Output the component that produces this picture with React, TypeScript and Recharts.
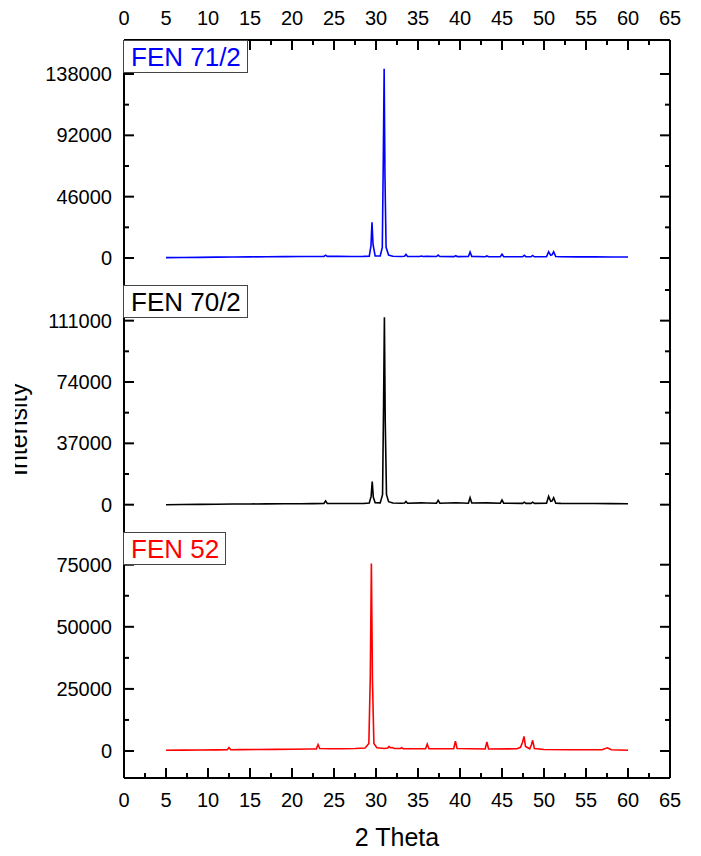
import React from "react";
import { LineChart, Line, XAxis, YAxis, Legend } from "recharts";

const FONT = '"Liberation Sans", Arial, sans-serif';
const W = 701;
const H = 856;

// 2 Theta axis ticks (majors every 5, minors in between)
const thetaTicks = [
  0, 2.5, 5, 7.5, 10, 12.5, 15, 17.5, 20, 22.5, 25, 27.5, 30, 32.5, 35, 37.5,
  40, 42.5, 45, 47.5, 50, 52.5, 55, 57.5, 60, 62.5, 65,
];

// FEN 71/2 (blue)
const fen71Theta = [
  5, 7, 9, 11, 13, 15, 17, 19, 21, 22.5, 23.8, 24.0, 24.2, 25.5, 27, 28.5,
  29.2, 29.4, 29.52, 29.65, 29.9, 30.5, 30.75, 30.87, 30.97, 31.07, 31.2, 31.5,
  32, 33, 33.4, 33.57, 33.75, 35.2, 35.4, 35.6, 36.0, 37.2, 37.4, 37.6, 39.3,
  39.5, 39.7, 41.0, 41.2, 41.4, 43.0, 43.2, 43.4, 44.8, 45.0, 45.2, 47.45,
  47.65, 47.85, 48.45, 48.65, 48.85, 50.3, 50.55, 50.8, 50.95, 51.15, 51.4, 52,
  54, 56, 58, 60,
];
const fen71Counts = [
  300, 400, 500, 650, 750, 850, 950, 1050, 1100, 1150, 1200, 2100, 1250, 1200,
  1150, 1200, 1400, 9000, 26800, 10000, 1600, 1500, 8000, 75000, 142000, 60000,
  8000, 2200, 1300, 1100, 1300, 2800, 1200, 1100, 1500, 1100, 1300, 1100, 2200,
  1100, 1000, 1700, 1000, 1100, 4500, 1200, 900, 1500, 900, 1000, 2900, 1000,
  900, 2000, 1000, 900, 1900, 900, 1000, 4700, 2000, 2300, 4600, 1100, 900, 850,
  850, 800, 800,
];
const fen71Ticks = [0, 23000, 46000, 69000, 92000, 115000, 138000];

// FEN 70/2 (black)
const fen70Theta = [
  5, 7, 9, 11, 13, 15, 17, 19, 21, 22.5, 23.8, 24.0, 24.2, 25.5, 27, 28.5,
  29.2, 29.42, 29.55, 29.68, 29.9, 30.5, 30.78, 30.9, 31.0, 31.1, 31.25, 31.5,
  32, 33, 33.4, 33.57, 33.75, 35.4, 36.0, 37.2, 37.4, 37.6, 39.5, 41.0, 41.2,
  41.4, 43.2, 44.8, 45.0, 45.2, 47.45, 47.65, 47.85, 48.45, 48.65, 48.85, 50.3,
  50.55, 50.8, 50.95, 51.15, 51.4, 52, 54, 56, 58, 60,
];
const fen70Counts = [
  0, 100, 200, 300, 400, 450, 500, 550, 600, 650, 700, 2300, 750, 700, 700, 750,
  1000, 5000, 13900, 4500, 1200, 1100, 6000, 60000, 113000, 50000, 6000, 1800,
  1000, 900, 1000, 2000, 900, 1100, 1000, 900, 2600, 900, 1200, 900, 4200, 1000,
  1100, 900, 2800, 900, 800, 1500, 800, 800, 1500, 800, 900, 5000, 2000, 2200,
  4200, 900, 800, 700, 700, 650, 600,
];
const fen70Ticks = [0, 18500, 37000, 55500, 74000, 92500, 111000, 129500];

// FEN 52 (red)
const fen52Theta = [
  5, 7, 9, 11, 12.3, 12.5, 12.7, 14, 16, 18, 20, 22, 22.9, 23.1, 23.3, 24.5, 26,
  27.5, 28.7, 29.15, 29.32, 29.45, 29.58, 29.75, 30.1, 31, 31.4, 31.55, 31.7,
  31.9, 32.2, 32.9, 33.05, 33.25, 35.9, 36.1, 36.3, 39.25, 39.45, 39.65, 43.0,
  43.2, 43.4, 46.8, 47.2, 47.45, 47.62, 47.8, 48.3, 48.5, 48.65, 48.85, 50, 53,
  56.9, 57.55, 58, 60,
];
const fen52Counts = [
  300, 350, 400, 450, 500, 1400, 500, 550, 600, 650, 700, 800, 850, 2600, 1000,
  900, 900, 1000, 1200, 3000, 30000, 75500, 28000, 3000, 1300, 1000, 1200, 1800,
  1300, 1400, 1000, 1000, 1300, 900, 900, 2800, 900, 900, 4000, 1000, 800, 3600,
  800, 900, 1500, 3500, 5900, 1800, 900, 2500, 4300, 1000, 600, 500, 500, 1300,
  500, 300,
];
const fen52Ticks = [0, 12500, 25000, 37500, 50000, 62500, 75000];

const zip = (theta: number[], counts: number[]) =>
  theta.map((t, i) => ({ t, v: counts[i] }));

const XTick = (props: any) => {
  const { x, y, payload, dir, labels } = props;
  const v = payload.value;
  const major = v % 5 === 0;
  return (
    <g>
      <line x1={x} x2={x} y1={y} y2={y + dir * (major ? 10 : 5)} stroke="#000" strokeWidth={2} />
      {major && labels !== "none" && (
        <text
          x={x}
          y={labels === "above" ? y - 15.5 : y + 28.5}
          textAnchor="middle"
          fontSize={20}
          fontFamily={FONT}
          fill="#000"
        >
          {v}
        </text>
      )}
    </g>
  );
};

const YTick = (props: any) => {
  const { x, y, payload, dir, major, showLabel } = props;
  const v = payload.value;
  const isMajor = v % major === 0;
  return (
    <g>
      <line x1={x} x2={x + dir * (isMajor ? 10 : 5)} y1={y} y2={y} stroke="#000" strokeWidth={2} />
      {isMajor && showLabel && (
        <text x={x - 12} y={y + 7} textAnchor="end" fontSize={20} fontFamily={FONT} fill="#000">
          {v}
        </text>
      )}
    </g>
  );
};

const IntensityTitle = (props: any) => {
  const vb = props.viewBox || { y: 285, height: 247 };
  const cx = 26.5;
  const cy = vb.y + vb.height / 2 + 21;
  return (
    <g clipPath="url(#ytitle-clip)">
      <defs>
        <clipPath id="ytitle-clip">
          <rect x={15} y={0} width={100} height={H} />
        </clipPath>
      </defs>
      <text
        x={cx}
        y={cy}
        transform={`rotate(-90 ${cx} ${cy})`}
        textAnchor="middle"
        fontSize={25}
        fontFamily={FONT}
        fill="#000"
      >
        Intensity
      </text>
    </g>
  );
};

const NameBox = (props: any) => {
  const item = props.payload && props.payload[0];
  if (!item) return null;
  return (
    <div
      style={{
        border: "1px solid #444",
        background: "#fff",
        padding: "2px 6px 0 7px",
        lineHeight: "29px",
        fontSize: 26,
        fontFamily: FONT,
        color: item.color,
        whiteSpace: "nowrap",
      }}
    >
      {item.value}
    </div>
  );
};

type PanelProps = {
  name: string;
  color: string;
  theta: number[];
  counts: number[];
  yDomain: [number, number];
  yTicks: number[];
  yMajor: number;
  plotTop: number;
  plotBottom: number;
  topAxis?: boolean;
  bottomLabels?: boolean;
  yTitle?: boolean;
};

const Panel = (p: PanelProps) => {
  const bottomH = p.bottomLabels ? H - p.plotBottom : 0;
  return (
    <div style={{ position: "absolute", left: 0, top: 0, width: W, height: H }}>
      <LineChart
        width={W}
        height={H}
        data={zip(p.theta, p.counts)}
        margin={{
          top: p.topAxis ? 0 : p.plotTop,
          right: 0,
          bottom: p.bottomLabels ? 0 : H - p.plotBottom,
          left: 0,
        }}
      >
        <XAxis
          dataKey="t"
          type="number"
          domain={[0, 65]}
          allowDataOverflow
          ticks={thetaTicks}
          interval={0}
          height={bottomH}
          tickSize={0}
          tickMargin={0}
          axisLine={{ stroke: "#000", strokeWidth: 2 }}
          tick={(t: any) => (
            <XTick {...t} dir={-1} labels={p.bottomLabels ? "below" : "none"} />
          )}
          label={
            p.bottomLabels
              ? { value: "2 Theta", position: "insideBottom", offset: 10, fontSize: 25, fontFamily: FONT, fill: "#000" }
              : undefined
          }
        />
        {p.topAxis && (
          <XAxis
            xAxisId="top"
            orientation="top"
            dataKey="t"
            type="number"
            domain={[0, 65]}
            allowDataOverflow
            ticks={thetaTicks}
            interval={0}
            height={p.plotTop}
            tickSize={0}
            tickMargin={0}
            axisLine={{ stroke: "#000", strokeWidth: 2 }}
            tick={(t: any) => <XTick {...t} dir={1} labels="above" />}
          />
        )}
        <YAxis
          type="number"
          domain={p.yDomain}
          allowDataOverflow
          ticks={p.yTicks}
          interval={0}
          width={124}
          tickSize={0}
          tickMargin={0}
          axisLine={{ stroke: "#000", strokeWidth: 2 }}
          tick={(t: any) => <YTick {...t} dir={1} major={p.yMajor} showLabel />}
          label={p.yTitle ? { content: (l: any) => <IntensityTitle {...l} /> } : undefined}
        />
        <YAxis
          yAxisId="r"
          orientation="right"
          type="number"
          domain={p.yDomain}
          allowDataOverflow
          ticks={p.yTicks}
          interval={0}
          width={31}
          tickSize={0}
          tickMargin={0}
          axisLine={{ stroke: "#000", strokeWidth: 2 }}
          tick={(t: any) => <YTick {...t} dir={-1} major={p.yMajor} showLabel={false} />}
        />
        <Legend
          layout="horizontal"
          verticalAlign="middle"
          align="center"
          wrapperStyle={{ left: 123, top: p.plotTop, width: "auto", height: "auto" }}
          content={(l: any) => <NameBox {...l} />}
        />
        <Line
          type="linear"
          dataKey="v"
          name={p.name}
          stroke={p.color}
          strokeWidth={1.6}
          dot={false}
          isAnimationActive={false}
        />
      </LineChart>
    </div>
  );
};

export default function App() {
  return (
    <div
      style={{
        position: "absolute",
        left: 0,
        top: 0,
        width: W,
        height: H,
        background: "#fff",
        overflow: "hidden",
      }}
    >
      <Panel
        name="FEN 71/2"
        color="#0000ff"
        theta={fen71Theta}
        counts={fen71Counts}
        yDomain={[-20250, 163500]}
        yTicks={fen71Ticks}
        yMajor={46000}
        plotTop={40}
        plotBottom={285}
        topAxis
      />
      <Panel
        name="FEN 70/2"
        color="#000000"
        theta={fen70Theta}
        counts={fen70Counts}
        yDomain={[-16470, 132500]}
        yTicks={fen70Ticks}
        yMajor={37000}
        plotTop={285}
        plotBottom={532}
        yTitle
      />
      <Panel
        name="FEN 52"
        color="#ff0000"
        theta={fen52Theta}
        counts={fen52Counts}
        yDomain={[-10870, 88170]}
        yTicks={fen52Ticks}
        yMajor={25000}
        plotTop={532}
        plotBottom={778}
        bottomLabels
      />
    </div>
  );
}
